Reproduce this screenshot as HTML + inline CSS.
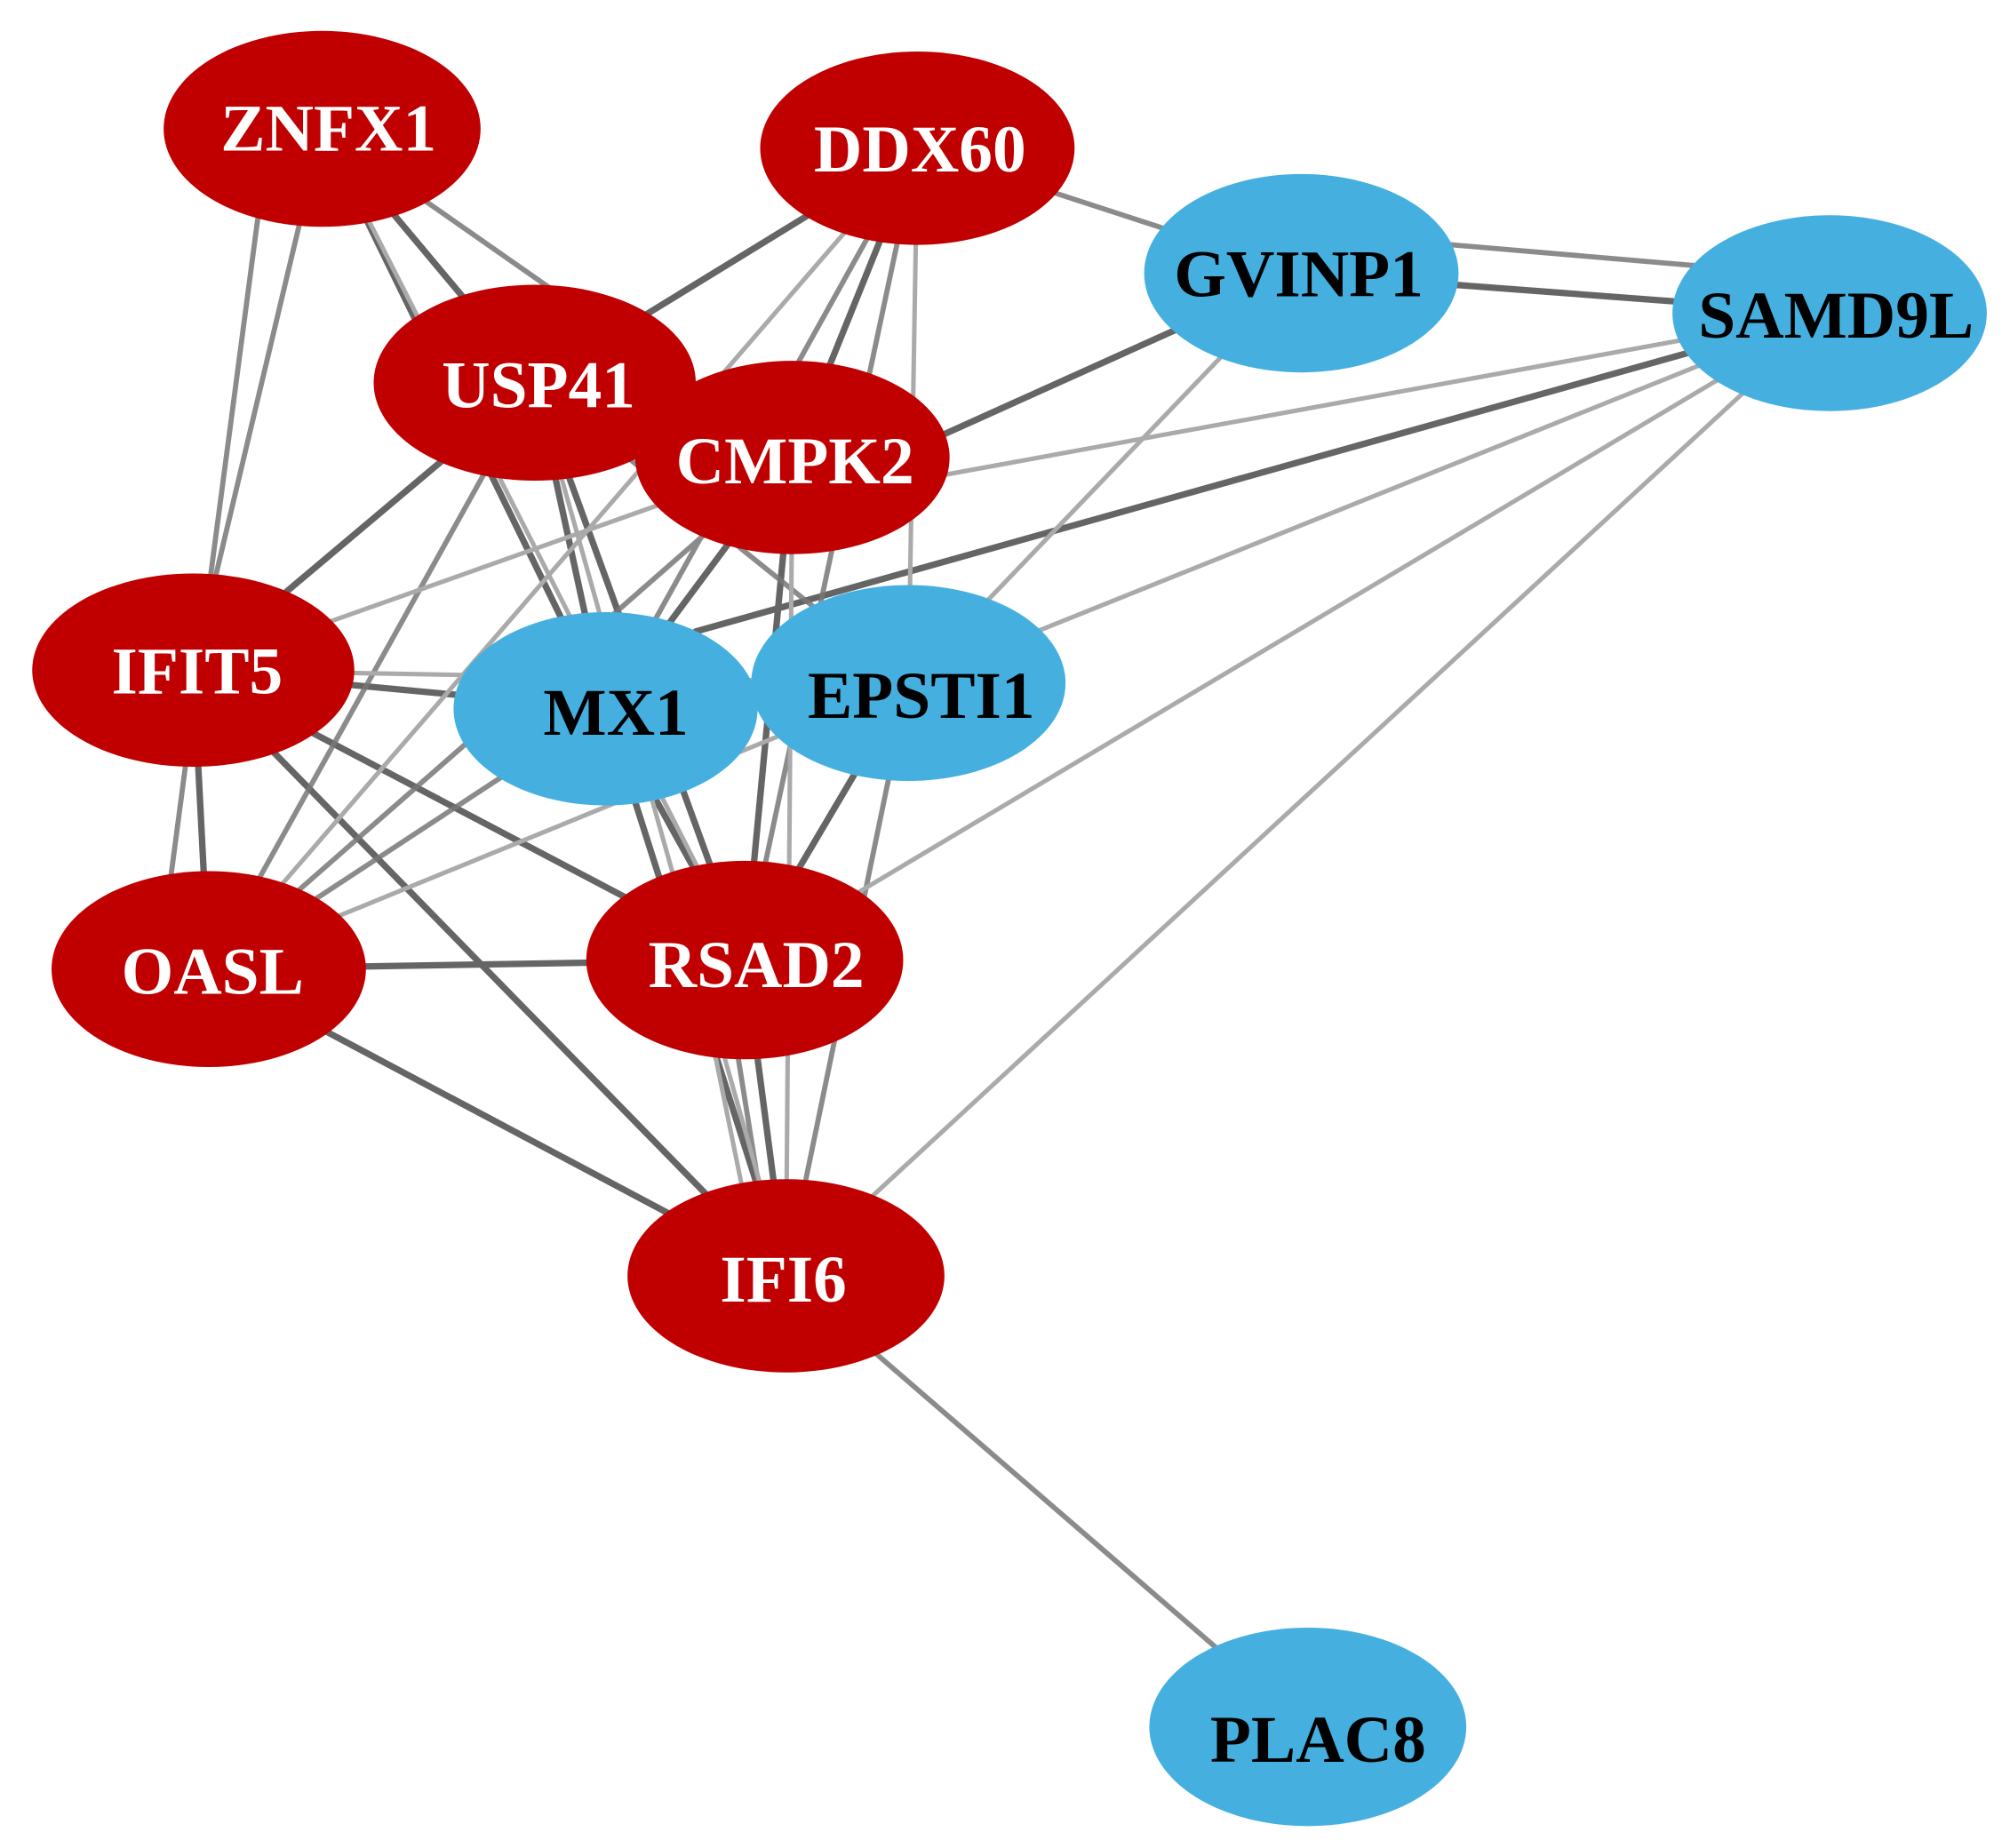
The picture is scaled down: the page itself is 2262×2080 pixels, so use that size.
<!DOCTYPE html>
<html><head><meta charset="utf-8"><style>html,body{margin:0;padding:0;background:#fff;width:2262px;height:2080px;overflow:hidden}svg{display:block}</style></head><body>
<svg width="2262" height="2080" viewBox="0 0 1560 1434" preserveAspectRatio="none" xmlns="http://www.w3.org/2000/svg">
<g stroke-linecap="round" fill="none">
<g stroke="#555" stroke-width="5" opacity="0.9">
<line x1="250" y1="100" x2="415" y2="297"/>
<line x1="250" y1="100" x2="470" y2="550"/>
<line x1="712" y1="115" x2="415" y2="297"/>
<line x1="712" y1="115" x2="615" y2="355"/>
<line x1="1010" y1="212" x2="1420" y2="243"/>
<line x1="1010" y1="212" x2="615" y2="390"/>
<line x1="1420" y1="243" x2="540" y2="490"/>
<line x1="415" y1="297" x2="150" y2="520"/>
<line x1="415" y1="297" x2="470" y2="550"/>
<line x1="415" y1="297" x2="578" y2="745"/>
<line x1="615" y1="355" x2="578" y2="745"/>
<line x1="615" y1="355" x2="470" y2="550"/>
<line x1="150" y1="520" x2="470" y2="550"/>
<line x1="150" y1="520" x2="162" y2="752"/>
<line x1="150" y1="520" x2="578" y2="745"/>
<line x1="150" y1="520" x2="610" y2="990"/>
<line x1="470" y1="550" x2="578" y2="745"/>
<line x1="162" y1="752" x2="578" y2="745"/>
<line x1="162" y1="752" x2="610" y2="990"/>
<line x1="705" y1="530" x2="578" y2="745"/>
<line x1="578" y1="745" x2="610" y2="990"/>
<line x1="470" y1="550" x2="610" y2="990"/>
</g>
<g stroke="#777" stroke-width="4" opacity="0.85">
<line x1="250" y1="100" x2="615" y2="355"/>
<line x1="250" y1="100" x2="150" y2="520"/>
<line x1="200" y1="170" x2="130" y2="700"/>
<line x1="712" y1="115" x2="1010" y2="212"/>
<line x1="712" y1="115" x2="470" y2="550"/>
<line x1="712" y1="115" x2="578" y2="745"/>
<line x1="1010" y1="180" x2="1420" y2="215"/>
<line x1="415" y1="297" x2="162" y2="752"/>
<line x1="415" y1="297" x2="705" y2="530"/>
<line x1="615" y1="355" x2="162" y2="752"/>
<line x1="470" y1="550" x2="162" y2="752"/>
<line x1="610" y1="990" x2="1015" y2="1340"/>
<line x1="705" y1="530" x2="610" y2="990"/>
<line x1="560" y1="740" x2="600" y2="990"/>
</g>
<g stroke="#aaa" stroke-width="3.5">
<line x1="250" y1="100" x2="578" y2="745"/>
<line x1="712" y1="115" x2="705" y2="530"/>
<line x1="712" y1="115" x2="162" y2="752"/>
<line x1="1010" y1="212" x2="705" y2="530"/>
<line x1="1420" y1="243" x2="615" y2="390"/>
<line x1="1420" y1="243" x2="705" y2="530"/>
<line x1="1420" y1="243" x2="578" y2="745"/>
<line x1="1420" y1="243" x2="610" y2="990"/>
<line x1="415" y1="297" x2="610" y2="990"/>
<line x1="615" y1="355" x2="150" y2="520"/>
<line x1="615" y1="355" x2="610" y2="990"/>
<line x1="705" y1="530" x2="162" y2="752"/>
<line x1="150" y1="520" x2="705" y2="530"/>
<line x1="540" y1="745" x2="590" y2="990"/>
</g>
</g>
<g font-family="'Liberation Serif',serif" font-weight="bold" font-size="52" text-anchor="middle">
<g fill="#c00000">
<ellipse cx="250" cy="100" rx="123" ry="76"/>
<ellipse cx="712" cy="115" rx="122" ry="75"/>
<ellipse cx="415" cy="297" rx="125" ry="76"/>
<ellipse cx="615" cy="355" rx="122" ry="75"/>
<ellipse cx="150" cy="520" rx="125" ry="75"/>
<ellipse cx="162" cy="752" rx="122" ry="76"/>
<ellipse cx="578" cy="745" rx="123" ry="77"/>
<ellipse cx="610" cy="990" rx="123" ry="75"/>
</g>
<g fill="#45b0e0">
<ellipse cx="1010" cy="212" rx="122" ry="77"/>
<ellipse cx="1420" cy="243" rx="122" ry="76"/>
<ellipse cx="705" cy="530" rx="122" ry="76"/>
<ellipse cx="470" cy="550" rx="118" ry="75"/>
<ellipse cx="1015" cy="1340" rx="123" ry="77"/>
</g>
<g fill="#fff">
<text x="255" y="117">ZNFX1</text>
<text x="714" y="133">DDX60</text>
<text x="418" y="316">USP41</text>
<text x="617" y="375">CMPK2</text>
<text x="153" y="538">IFIT5</text>
<text x="165" y="771">OASL</text>
<text x="587" y="766">RSAD2</text>
<text x="608" y="1010">IFI6</text>
</g>
<g fill="#000">
<text x="1008" y="230">GVINP1</text>
<text x="1425" y="262">SAMD9L</text>
<text x="715" y="557">EPSTI1</text>
<text x="478" y="570">MX1</text>
<text x="1023" y="1367">PLAC8</text>
</g>
</g>
</svg>
</body></html>
